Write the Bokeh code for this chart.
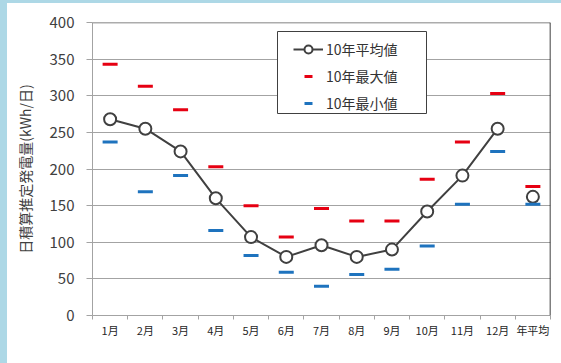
from bokeh.plotting import figure
from bokeh.models import (Range1d, FixedTicker, Legend, LegendItem, Span,
                          BoxAnnotation, Spacer, ColumnDataSource)
from bokeh.layouts import column, row
from bokeh.embed import file_html
from bokeh.resources import INLINE

# ---- data ----
months = ["1月", "2月", "3月", "4月", "5月", "6月", "7月", "8月", "9月",
          "10月", "11月", "12月", "年平均"]
avg_vals = [268, 255, 224, 160, 107, 80, 96, 80, 90, 142, 191, 255, 162]
max_vals = [343, 313, 281, 203, 150, 107, 146, 129, 129, 186, 237, 303, 176]
min_vals = [237, 169, 191, 116, 82, 59, 40, 56, 63, 95, 152, 224, 152]
y_ticks = [0, 50, 100, 150, 200, 250, 300, 350, 400]
series_labels = ["10年平均値", "10年最大値", "10年最小値"]

FONT = "Noto Sans CJK JP"
TXT = "#404040"
GRID = "#a3a3a3"
BLUE_BG = "#add8e6"

n = len(months)
pos = list(range(1, n + 1))
src = ColumnDataSource(dict(x=pos, avg=avg_vals, mx=max_vals, mn=min_vals))
line_src = ColumnDataSource(dict(x=pos[:12], avg=avg_vals[:12]))

p = figure(width=554, height=360,
           x_range=Range1d(0.5, n + 0.5), y_range=Range1d(y_ticks[0], y_ticks[-1]),
           output_backend="svg", toolbar_location=None,
           min_border_left=85, min_border_right=11,
           min_border_top=19, min_border_bottom=48)
p.background_fill_color = "white"
p.border_fill_color = "white"
p.outline_line_color = None

# x axis: labels at category centres, small ticks at category boundaries
xa = p.xaxis[0]
xa.ticker = FixedTicker(ticks=pos, minor_ticks=[i + 0.5 for i in range(0, n + 1)])
xa.major_label_overrides = {i + 1: m for i, m in enumerate(months)}
xa.major_tick_line_color = None
xa.major_tick_out = 0
xa.major_tick_in = 0
xa.minor_tick_out = 4
xa.minor_tick_in = 0
xa.minor_tick_line_color = GRID
xa.axis_line_color = GRID
xa.major_label_text_font = FONT
xa.major_label_text_font_size = "11px"
xa.major_label_text_color = "#262626"
xa.major_label_standoff = 2
p.xgrid.visible = False

# y axis
ya = p.yaxis[0]
ya.ticker = FixedTicker(ticks=y_ticks)
ya.major_tick_out = 6
ya.major_tick_in = 0
ya.major_tick_line_color = GRID
ya.minor_tick_line_color = None
ya.axis_line_color = GRID
ya.major_label_text_font = FONT
ya.major_label_text_font_size = "15px"
ya.major_label_text_color = TXT
ya.major_label_standoff = 12
ya.axis_label = "日積算推定発電量(kWh/日)"
ya.axis_label_text_font = FONT
ya.axis_label_text_font_size = "14px"
ya.axis_label_text_font_style = "normal"
ya.axis_label_text_color = TXT
ya.axis_label_standoff = 12
p.ygrid.grid_line_color = GRID
p.ygrid.grid_line_width = 1.2

# frame top / right lines
p.add_layout(Span(location=y_ticks[-1], dimension="width", line_color="#5a5a5a", line_width=1.5))
p.add_layout(Span(location=n + 0.5, dimension="height", line_color="black", line_width=1.5))

# glyphs
r_line = p.line("x", "avg", source=line_src, line_color="#404040", line_width=2)
r_circ = p.scatter("x", "avg", source=src, marker="circle", size=12,
                   fill_color="white", line_color="#404040", line_width=2)
r_max = p.scatter("x", "mx", source=src, marker="dash", size=15,
                  line_color="#E60012", line_width=3)
r_min = p.scatter("x", "mn", source=src, marker="dash", size=15,
                  line_color="#1E73BE", line_width=3)

# legend frame
box = BoxAnnotation(left=185, right=334, bottom=202, top=284,
                    left_units="screen", right_units="screen",
                    top_units="screen", bottom_units="screen",
                    fill_color="white", fill_alpha=1.0,
                    line_color="#404040", line_width=1, line_alpha=1.0)
p.add_layout(box)

legend = Legend(items=[
    LegendItem(label=series_labels[0], renderers=[r_line, r_circ]),
    LegendItem(label=series_labels[1], renderers=[r_max]),
    LegendItem(label=series_labels[2], renderers=[r_min]),
], location=(201, 202))
legend.border_line_color = None
legend.background_fill_color = "white"
legend.background_fill_alpha = 1.0
legend.padding = 4
legend.margin = 0
legend.spacing = 7
legend.glyph_width = 30
legend.glyph_height = 20
legend.label_height = 20
legend.label_standoff = 3
legend.label_text_font = FONT
legend.label_text_font_size = "14px"
legend.label_text_color = "#333333"
p.add_layout(legend, "center")

top_strip = Spacer(width=561, height=3, styles={"background-color": BLUE_BG})
left_strip = Spacer(width=7, height=360, styles={"background-color": BLUE_BG})
layout = column(top_strip, row(left_strip, p, spacing=0), spacing=0)

open("out.html", "w").write(file_html(layout, INLINE))
